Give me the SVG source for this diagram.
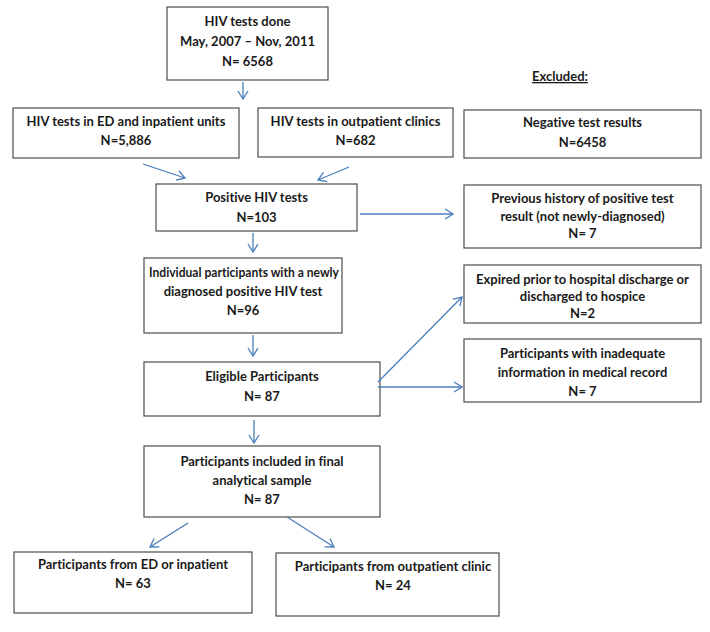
<svg xmlns="http://www.w3.org/2000/svg" width="710" height="632" viewBox="0 0 710 632">
<style>
.box{fill:#fff;stroke:#4d4d4d;stroke-width:1.2}
.t{font-family:Lato,"Liberation Sans",sans-serif;font-weight:bold;font-size:13px;fill:#1a1a1a;text-anchor:middle;font-variant-ligatures:none}
.c line{stroke:#4a7ebb;stroke-width:1.3;marker-end:url(#ah)}
</style>
<defs>
<marker id="ah" viewBox="0 0 10 12" refX="9" refY="6" markerWidth="10" markerHeight="12" markerUnits="userSpaceOnUse" orient="auto">
<path d="M1,1 L9,6 L1,11" fill="none" stroke="#4a7ebb" stroke-width="1.3"/>
</marker>
</defs>
<rect width="710" height="632" fill="#fff"/>
<g id="excluded"><text class="t" x="560" y="81" text-decoration="underline">Excluded:</text></g>
<g id="n1"><rect class="box" x="167" y="7" width="161" height="73"/>
<text class="t" x="247.5" y="26">HIV tests done</text>
<text class="t" x="247.5" y="46">May, 2007 – Nov, 2011</text>
<text class="t" x="247.5" y="66">N= 6568</text></g>
<g id="n2"><rect class="box" x="13" y="108" width="226" height="50"/>
<text class="t" x="126" y="126">HIV tests in ED and inpatient units</text>
<text class="t" x="126" y="145">N=5,886</text></g>
<g id="n3"><rect class="box" x="258" y="108" width="195" height="49"/>
<text class="t" x="355.5" y="126">HIV tests in outpatient clinics</text>
<text class="t" x="355.5" y="145">N=682</text></g>
<g id="n4"><rect class="box" x="464" y="110" width="237" height="48"/>
<text class="t" x="582.5" y="127">Negative test results</text>
<text class="t" x="582.5" y="147">N=6458</text></g>
<g id="n5"><rect class="box" x="156" y="184" width="201" height="47"/>
<text class="t" x="256.5" y="202">Positive HIV tests</text>
<text class="t" x="256.5" y="222">N=103</text></g>
<g id="n6"><rect class="box" x="464" y="185" width="237" height="63"/>
<text class="t" x="582.5" y="203">Previous history of positive test</text>
<text class="t" x="582.5" y="221">result (not newly-diagnosed)</text>
<text class="t" x="582.5" y="238">N= 7</text></g>
<g id="n7"><rect class="box" x="144" y="258" width="198" height="75"/>
<text class="t" x="244" y="277" textLength="190" lengthAdjust="spacingAndGlyphs">Individual participants with a newly</text>
<text class="t" x="243" y="296">diagnosed positive HIV test</text>
<text class="t" x="243" y="315">N=96</text></g>
<g id="n8"><rect class="box" x="464" y="265" width="237" height="58"/>
<text class="t" x="582.5" y="284">Expired prior to hospital discharge or</text>
<text class="t" x="582.5" y="301">discharged to hospice</text>
<text class="t" x="582.5" y="318">N=2</text></g>
<g id="n9"><rect class="box" x="144" y="362" width="236" height="54"/>
<text class="t" x="262" y="381">Eligible Participants</text>
<text class="t" x="262" y="401">N= 87</text></g>
<g id="n10"><rect class="box" x="464" y="339" width="237" height="63"/>
<text class="t" x="582.5" y="358">Participants with inadequate</text>
<text class="t" x="582.5" y="377">information in medical record</text>
<text class="t" x="582.5" y="396">N= 7</text></g>
<g id="n11"><rect class="box" x="144" y="446" width="236" height="71"/>
<text class="t" x="262" y="466">Participants included in final</text>
<text class="t" x="262" y="485">analytical sample</text>
<text class="t" x="262" y="504">N= 87</text></g>
<g id="n12"><rect class="box" x="14" y="552" width="238" height="61"/>
<text class="t" x="133" y="569">Participants from ED or inpatient</text>
<text class="t" x="133" y="588">N= 63</text></g>
<g id="n13"><rect class="box" x="276" y="553" width="223" height="63"/>
<text class="t" x="393" y="571">Participants from outpatient clinic</text>
<text class="t" x="393" y="590">N= 24</text></g>
<g class="c" id="connectors">
<line x1="243" y1="82" x2="243" y2="99"/>
<line x1="143" y1="164" x2="185" y2="178"/>
<line x1="349" y1="167" x2="318" y2="180"/>
<line x1="253" y1="233" x2="253" y2="252"/>
<line x1="360" y1="214" x2="453" y2="214"/>
<line x1="253" y1="335" x2="253" y2="356"/>
<line x1="378" y1="382" x2="462" y2="297"/>
<line x1="378" y1="387" x2="462" y2="387"/>
<line x1="254" y1="420" x2="254" y2="443"/>
<line x1="188" y1="523" x2="150" y2="547"/>
<line x1="287" y1="517" x2="334" y2="547"/>
</g>
</svg>
